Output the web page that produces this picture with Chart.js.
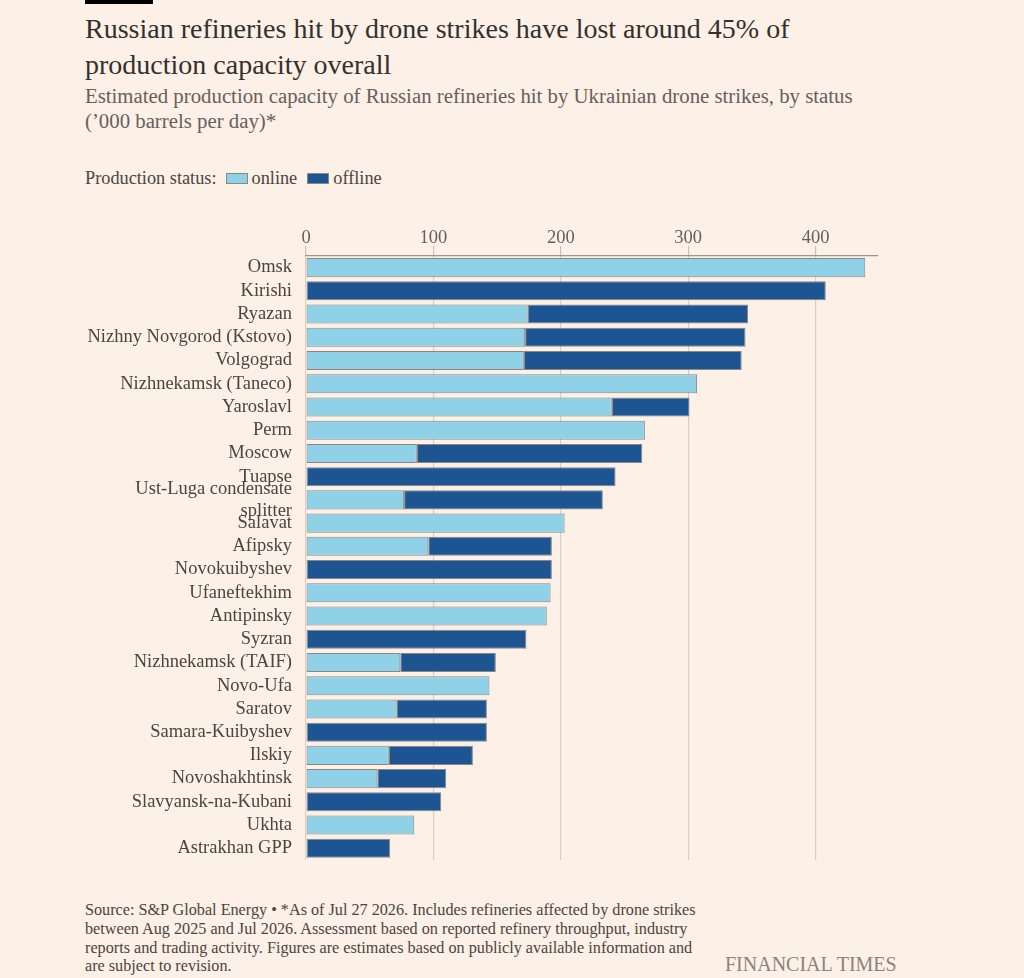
<!DOCTYPE html>
<html>
<head>
<meta charset="utf-8">
<script src="https://cdn.jsdelivr.net/npm/chart.js@4/dist/chart.umd.min.js"></script>
<style>
  html, body { margin: 0; padding: 0; background: #fdf0e6; }
  body { width: 1024px; height: 978px; position: relative; overflow: hidden; font-family: "Liberation Serif", "DejaVu Serif", serif; color: #33302e; }
  .topbar { position: absolute; left: 85px; top: 0; width: 68px; height: 4px; background: #000; }
  .title { position: absolute; left: 85px; top: 11px; width: 760px; font-size: 28px; line-height: 36px; color: #33302e; }
  .subtitle { position: absolute; left: 85px; top: 83px; width: 900px; font-size: 20.8px; line-height: 25px; color: #66605c; }
  .legend { position: absolute; left: 85px; top: 167px; font-size: 18.3px; line-height: 22px; color: #4a4541; display: flex; align-items: center; }
  .swatch { display: inline-block; width: 22px; height: 11px; margin: 0 4px 0 9px; box-sizing: border-box; border: 1px solid #8a8886; }
  .wrap { position: absolute; left: 0; top: 220px; width: 900px; height: 665px; }
  .note { position: absolute; left: 85px; top: 901px; width: 625px; font-size: 16.2px; line-height: 18.8px; color: #4a4541; }
  .brand { position: absolute; left: 725px; top: 953px; font-size: 20px; color: #8a8480; }
</style>
</head>
<body>
<div class="topbar"></div>
<div class="title">Russian refineries hit by drone strikes have lost around 45% of production capacity overall</div>
<div class="subtitle">Estimated production capacity of Russian refineries hit by Ukrainian drone strikes, by status<br>(’000 barrels per day)*</div>
<div class="legend">Production status:<span class="swatch" style="background:#8fd2e7"></span>online<span class="swatch" style="background:#1d5592;margin-left:10px"></span>offline</div>
<div class="wrap"><canvas id="chart"></canvas></div>
<div class="note">Source: S&amp;P Global Energy • *As of Jul 27 2026. Includes refineries affected by drone strikes between Aug 2025 and Jul 2026. Assessment based on reported refinery throughput, industry reports and trading activity. Figures are estimates based on publicly available information and are subject to revision.</div>
<div class="brand">FINANCIAL TIMES</div>
<script>
// refineries, top to bottom
var refineries = [
  "Omsk", "Kirishi", "Ryazan", "Nizhny Novgorod (Kstovo)", "Volgograd",
  "Nizhnekamsk (Taneco)", "Yaroslavl", "Perm", "Moscow", "Tuapse",
  ["Ust-Luga condensate", "splitter"], "Salavat", "Afipsky", "Novokuibyshev",
  "Ufaneftekhim", "Antipinsky", "Syzran", "Nizhnekamsk (TAIF)", "Novo-Ufa",
  "Saratov", "Samara-Kuibyshev", "Ilskiy", "Novoshakhtinsk",
  "Slavyansk-na-Kubani", "Ukhta", "Astrakhan GPP"
];

// '000 barrels per day
var online = [439, 0, 174, 172, 171, 307, 240, 266, 87, 0, 77, 203, 96, 0, 192, 189, 0, 74, 144, 71, 0, 65, 56, 0, 85, 0];
var offline = [0, 408, 173, 173, 171, 0, 61, 0, 177, 243, 156, 0, 97, 193, 0, 0, 173, 75, 0, 71, 142, 66, 54, 106, 0, 66];

var xTicks = [0, 100, 200, 300, 400];

var serif = "'Liberation Serif', 'DejaVu Serif', serif";

new Chart(document.getElementById("chart"), {
  type: "bar",
  data: {
    labels: refineries,
    datasets: [
      {
        label: "online",
        data: online,
        backgroundColor: "#8fd2e7",
        borderColor: "rgba(110,108,106,0.8)",
        borderWidth: 1,
        borderSkipped: false,
        barPercentage: 0.82,
        categoryPercentage: 1
      },
      {
        label: "offline",
        data: offline,
        backgroundColor: "#1d5592",
        borderColor: "rgba(110,108,106,0.8)",
        borderWidth: 1,
        borderSkipped: false,
        barPercentage: 0.82,
        categoryPercentage: 1
      }
    ]
  },
  options: {
    indexAxis: "y",
    responsive: true,
    maintainAspectRatio: false,
    animation: false,
    layout: { padding: { left: 0, right: 22, top: 0, bottom: 12 } },
    plugins: {
      legend: { display: false },
      tooltip: { enabled: false }
    },
    scales: {
      x: {
        position: "top",
        stacked: true,
        min: 0,
        max: 449,
        afterBuildTicks: function (axis) {
          axis.ticks = xTicks.map(function (v) { return { value: v }; });
        },
        afterFit: function (axis) { axis.height = 36; },
        grid: {
          color: "#d8d0c8",
          lineWidth: 1.2,
          tickLength: 10,
          tickColor: "#c9c1ba"
        },
        border: { display: true, color: "#9d9792", width: 1.2 },
        ticks: {
          color: "#66605c",
          padding: -3,
          font: { family: serif, size: 18.5 }
        }
      },
      y: {
        stacked: true,
        afterFit: function (axis) { axis.width = 306; },
        grid: { display: false, drawTicks: false },
        border: { display: false },
        ticks: {
          color: "#4a4541",
          padding: 14,
          autoSkip: false,
          font: { family: serif, size: 18.5, lineHeight: 1.2 }
        }
      }
    }
  }
});
</script>
</body>
</html>
